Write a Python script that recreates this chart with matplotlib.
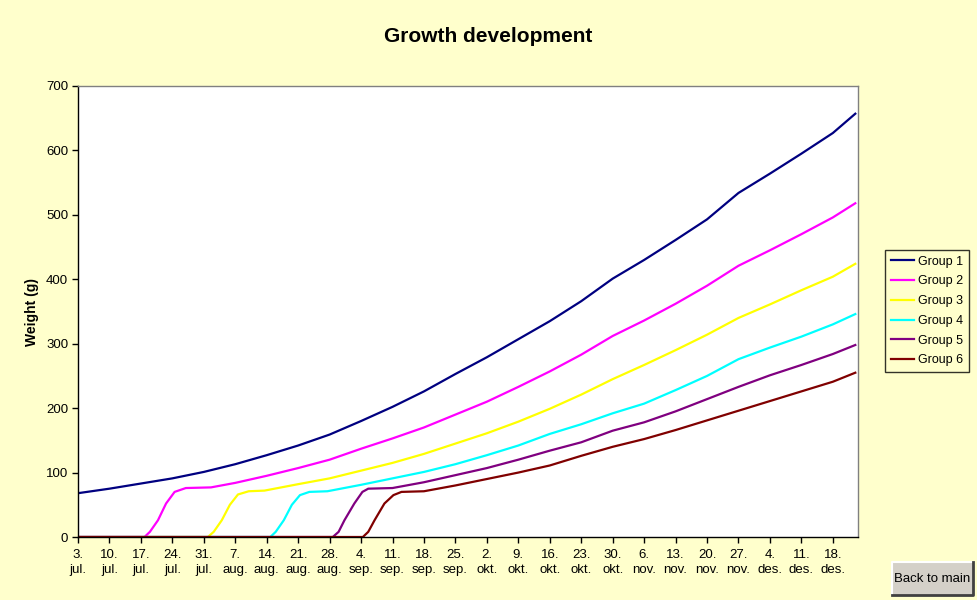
import matplotlib
matplotlib.use('Agg')
import matplotlib.pyplot as plt
from matplotlib.patches import Rectangle
from matplotlib.lines import Line2D

plt.rcParams['font.family'] = ['Liberation Sans', 'DejaVu Sans']

# days counted from 3. jul.
tick_days = list(range(0, 169, 7))
tick_labels = ['3.\njul.', '10.\njul.', '17.\njul.', '24.\njul.', '31.\njul.',
               '7.\naug.', '14.\naug.', '21.\naug.', '28.\naug.',
               '4.\nsep.', '11.\nsep.', '18.\nsep.', '25.\nsep.',
               '2.\nokt.', '9.\nokt.', '16.\nokt.', '23.\nokt.', '30.\nokt.',
               '6.\nnov.', '13.\nnov.', '20.\nnov.', '27.\nnov.',
               '4.\ndes.', '11.\ndes.', '18.\ndes.']

g1_days = [0, 7, 14, 21, 28, 35, 42, 49, 56, 63, 70, 77, 84, 91, 98, 105, 112,
           119, 126, 133, 140, 147, 154, 161, 168, 173]
g1 = [68, 75, 83, 91, 101, 113, 127, 142, 159, 180, 202, 226, 253, 279, 307, 335,
      366, 401, 430, 461, 493, 534, 564, 595, 627, 657]

g2_days = [0, 14.8, 16, 17.8, 19.6, 21.5, 24, 29.6, 35, 42, 49, 56, 63, 70, 77, 84,
           91, 98, 105, 112, 119, 126, 133, 140, 147, 154, 161, 168, 173]
g2 = [0, 0, 8, 26, 52, 70, 76, 77, 84, 95, 107, 120, 137, 153, 170, 190,
      210, 233, 257, 283, 312, 336, 362, 390, 421, 445, 470, 496, 518]

g3_days = [0, 28.9, 30.2, 32, 33.8, 35.6, 38, 41.5, 49, 56, 63, 70, 77, 84, 91, 98,
           105, 112, 119, 126, 133, 140, 147, 154, 161, 168, 173]
g3 = [0, 0, 8, 26, 50, 66, 71, 72, 82, 91, 103, 115, 129, 145, 161, 179,
      199, 221, 245, 267, 290, 314, 340, 361, 383, 404, 424]

g4_days = [0, 42.8, 44, 45.8, 47.6, 49.4, 51.5, 55.5, 63, 70, 77, 84, 91, 98, 105,
           112, 119, 126, 133, 140, 147, 154, 161, 168, 173]
g4 = [0, 0, 8, 26, 50, 65, 70, 71, 81, 91, 101, 113, 127, 142, 160,
      175, 192, 207, 228, 250, 276, 294, 311, 330, 346]

g5_days = [0, 56.7, 58, 59.3, 61.5, 63.3, 64.6, 70, 77, 84, 91, 98, 105, 112, 119,
           126, 133, 140, 147, 154, 161, 168, 173]
g5 = [0, 0, 8, 26, 52, 70, 75, 76, 85, 96, 107, 120, 134, 147, 165,
      178, 195, 214, 233, 251, 267, 284, 298]

g6_days = [0, 63.4, 64.6, 66, 68.2, 70.2, 72, 77, 84, 91, 98, 105, 112, 119, 126,
           133, 140, 147, 154, 161, 168, 173]
g6 = [0, 0, 8, 26, 52, 65, 70, 71, 80, 90, 100, 111, 126, 140, 152,
      166, 181, 196, 211, 226, 241, 255]

groups = ['Group 1', 'Group 2', 'Group 3', 'Group 4', 'Group 5', 'Group 6']
colors = ['#000080', '#FF00FF', '#FFFF00', '#00FFFF', '#800080', '#800000']
series = [(g1_days, g1), (g2_days, g2), (g3_days, g3),
          (g4_days, g4), (g5_days, g5), (g6_days, g6)]

bg = '#FFFFCC'
fig = plt.figure(figsize=(9.77, 6.0), dpi=100, facecolor=bg)
ax = fig.add_axes([78 / 977, 63 / 600, 780 / 977, 451 / 600])
ax.set_facecolor('white')

for (d, v), c, name in zip(series, colors, groups):
    ax.plot(d, v, color=c, lw=1.6, label=name, solid_joinstyle='round')

ax.set_xlim(0, 173.6)
ax.set_ylim(0, 700)
ax.set_yticks(range(0, 701, 100))
ax.set_xticks(tick_days)
ax.set_xticklabels(tick_labels, fontsize=9.5, linespacing=1.3)
ax.tick_params(axis='both', direction='out', length=4, width=1, color='black',
               labelsize=9.5, pad=3)
ax.tick_params(axis='x', pad=5)

for s in ['left', 'bottom']:
    ax.spines[s].set_color('black')
    ax.spines[s].set_linewidth(1)
for s in ['top', 'right']:
    ax.spines[s].set_color('#808080')
    ax.spines[s].set_linewidth(1)

ax.set_ylabel('Weight (g)', fontsize=10, fontweight='bold', labelpad=5)
fig.text(488 / 977, 1 - 36 / 600, 'Growth development', ha='center', va='center',
         fontsize=15, fontweight='bold')

handles = [Line2D([0], [0], color=c, lw=1.6) for c in colors]
leg = fig.legend(handles, groups, loc='upper left',
                 bbox_to_anchor=(885 / 977, 1 - 250 / 600),
                 fontsize=9, frameon=True, fancybox=False, handlelength=1.9,
                 handletextpad=0.3, borderpad=0.45, labelspacing=0.62,
                 borderaxespad=0)
leg.get_frame().set_edgecolor('black')
leg.get_frame().set_facecolor(bg)
leg.get_frame().set_linewidth(1)

# "Back to main" button
bx, by, bw, bh = 892 / 977, 1 - 595 / 600, 81 / 977, 33 / 600
fig.patches.append(Rectangle((bx, by), bw, bh, transform=fig.transFigure,
                             facecolor='#D4D0C8', edgecolor='none'))
fig.lines.append(Line2D([bx, bx, bx + bw], [by, by + bh, by + bh],
                        transform=fig.transFigure, color='white', lw=1.5))
fig.lines.append(Line2D([bx, bx + bw, bx + bw], [by, by, by + bh],
                        transform=fig.transFigure, color='#404040', lw=2))
fig.text(bx + bw / 2, by + bh / 2, 'Back to main', ha='center', va='center',
         fontsize=9.5)

fig.savefig('out.png', dpi=100, facecolor=bg)
